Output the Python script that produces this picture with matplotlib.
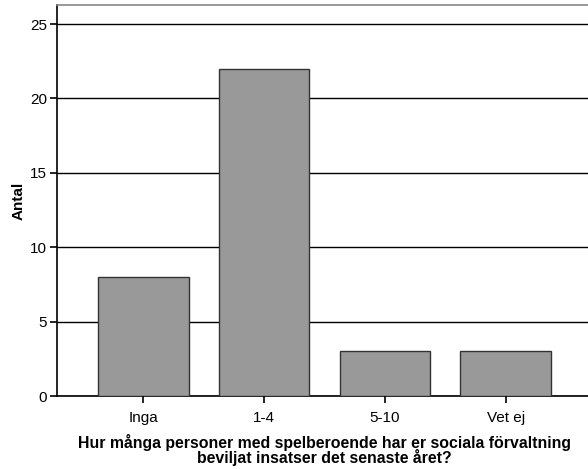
import matplotlib
matplotlib.use("Agg")
import matplotlib.pyplot as plt

categories = ["Inga", "1-4", "5-10", "Vet ej"]
counts = [8, 22, 3, 3]
yticks = [0, 5, 10, 15, 20, 25]

plt.rcParams['font.family'] = ['Liberation Sans', 'DejaVu Sans']

fig = plt.figure(figsize=(5.88, 4.69), dpi=100)
ax = fig.add_axes([57/588, 1-396/469, (592-57)/588, (396-5)/469])

x = list(range(len(categories)))
ax.set_axisbelow(True)
ax.yaxis.grid(True, color='black', linewidth=1.0)
ax.bar(x, counts, width=0.75, color='#999999', edgecolor='#333333', linewidth=1.0, zorder=3)

ax.set_xlim(-0.716, 3.716)
ax.set_ylim(0, 26.28)
ax.set_yticks(yticks)
ax.set_xticks(x)
ax.set_xticklabels(categories)
ax.tick_params(axis='both', direction='out', length=5, width=1.2, labelsize=11, colors='black')
ax.tick_params(axis='y', pad=2)
ax.tick_params(axis='x', pad=6)

for s in ['left', 'bottom']:
    ax.spines[s].set_color('black')
    ax.spines[s].set_linewidth(1.2)
ax.spines['top'].set_color('#888888')
ax.spines['top'].set_linewidth(1.2)
ax.spines['right'].set_visible(False)

ax.set_ylabel("Antal", fontsize=11, fontweight='bold', labelpad=3)
ax.set_xlabel("Hur många personer med spelberoende har er sociala förvaltning\nbeviljat insatser det senaste året?",
              fontsize=11.4, fontweight='bold', labelpad=6, linespacing=0.92)

fig.savefig("out.png", dpi=100)
